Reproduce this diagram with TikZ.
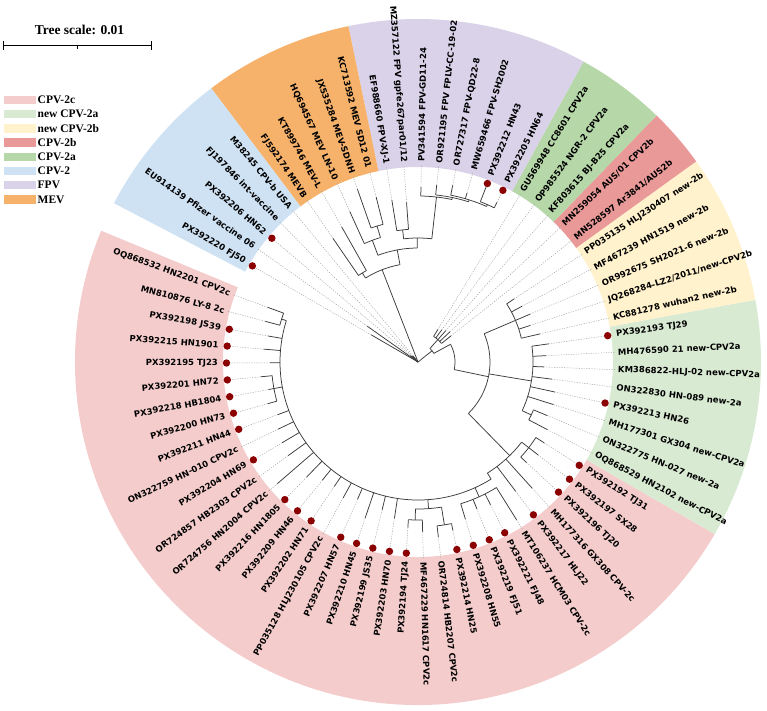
\documentclass[tikz,border=0pt]{standalone}
\usepackage{fontspec}
\setmainfont{Liberation Serif}
\newfontfamily\leaffont{DejaVu Sans}
\usetikzlibrary{arrows.meta}
\definecolor{twocbg}{HTML}{F4CCCC}
\definecolor{newtwoabg}{HTML}{D9EAD3}
\definecolor{newtwobbg}{HTML}{FFF2CC}
\definecolor{twobbg}{HTML}{EA9999}
\definecolor{twoabg}{HTML}{B6D7A8}
\definecolor{twobg}{HTML}{CFE2F3}
\definecolor{fpvbg}{HTML}{D9D2E9}
\definecolor{mevbg}{HTML}{F6B26B}
\definecolor{tipred}{HTML}{8B0000}
\definecolor{branchink}{HTML}{3A3A3A}
\definecolor{dashgray}{HTML}{A0A0A0}
\tikzset{
  branch/.style={draw=branchink,line width=0.75pt},
  leafdash/.style={draw=dashgray,line width=0.45pt,dash pattern=on 1.2pt off 1.3pt},
  leaflabel/.style={inner sep=0pt,font=\leaffont\bfseries\fontsize{8.5}{9}\selectfont},
  tipdot/.style={fill=tipred,draw=none},
  keybox/.style={minimum width=32pt,minimum height=8.5pt,inner sep=0pt,draw=none},
  keytext/.style={anchor=west,inner sep=0pt,font=\bfseries\fontsize{11.5}{12}\selectfont}
}
\begin{document}
\begin{tikzpicture}[x=1pt,y=1pt]
  \useasboundingbox (0,0) rectangle (767,710);
  \begin{scope}[shift={(418,348)}]
    % clade sectors
    \foreach \a/\b/\col in {157.49/329.88/twocbg,-30.12/10.45/newtwoabg,10.45/35.80/newtwobbg,
        35.80/45.94/twobbg,45.94/61.15/twoabg,61.15/101.71/fpvbg,101.71/127.07/mevbg,127.07/152.42/twobg} {
      \fill[\col] (\a:195) arc[start angle=\a,end angle=\b,radius=195]
        -- (\b:343) arc[start angle=\b,end angle=\a,radius=343] -- cycle;
    }
    % leaves: slot, branch start, tip, dot, label
    \foreach \k/\base/\tip/\dot/\txt in {
      0/138/148/1/{PX392195 TJ23}, 1/138/155/1/{PX392215 HN1901}, 2/138/152/1/{PX392198 JS39},
      3/143/158/0/{MN810876 LY-8 2c}, 4/143/160/0/{OQ868532 HN2201 CPV2c},
      6/0/54/1/{PX392220 FJ50}, 7/0/62/0/{EU914139 Pfizer vaccine 06}, 8/0/10/1/{PX392206 HN62},
      9/0/8/0/{FJ197846 int-vaccine}, 10/0/8/0/{M38245 CPV-b USA},
      11/105/150/0/{FJ592174 MEVB}, 12/105/155/0/{KT899746 MEV-L}, 13/130/165/0/{HQ694567 MEV LN-10},
      14/142/183/0/{JX535284 MEV-SDNH}, 15/142/170/0/{KC713592 MEV SD12 01},
      16/133/164/0/{EF988660 FPV-XJ-1}, 17/133/160/0/{MZ357122 FPV gpfe267par01/12},
      18/166/175/0/{PV341594 FPV-GD11-24}, 19/168/178/0/{OR921195 FPV FPLV-CC-19-02},
      20/170/180/0/{OR727317 FPV-QD22-8}, 21/170/176/0/{MW659466 FPV-SH2002},
      22/172/188/1/{PX392212 HN43}, 23/172/178/1/{PX392205 HN64},
      24/30/38/0/{GU569948 CC8601 CPV2a}, 25/30/40/0/{OP985524 NGR-2 CPV2a}, 26/30/42/0/{KF803615 BJ-B25 CPV2a},
      27/30/44/0/{MN259054 AUS/01 CPV2b}, 28/30/42/0/{MN528597 Ar3841/AUS2b},
      29/106/115/0/{PP035135 HLJ230407 new-2b}, 30/106/118/0/{MF467239 HN1519 new-2b},
      31/106/122/0/{OR992675 SH2021-6 new-2b}, 32/106/118/0/{JQ268284-LZ2/2011/new-CPV2b},
      33/106/125/0/{KC881278 wuhan2 new-2b},
      34/115/132/1/{PX392193 TJ29}, 35/115/128/0/{MH476590 21 new-CPV2a}, 36/115/126/0/{KM386822-HLJ-02 new-CPV2a},
      37/115/135/0/{ON322830 HN-089 new-2a}, 38/115/140/1/{PX392213 HN26}, 39/115/142/0/{MH177301 GX304 new-CPV2a},
      40/125/140/0/{ON322775 HN-027 new-2a}, 41/125/146/0/{OQ868529 HN2102 new-CPV2a},
      42/140/150/1/{PX392192 TJ31}, 43/140/152/1/{PX392197 SX28}, 44/140/148/1/{PX392196 TJ20},
      45/131/170/0/{MH177316 GX308 CPV-2c}, 46/131/162/1/{PX392217 HLJ22}, 47/148/186/0/{MT106237 HCM03 CPV-2c},
      48/148/160/1/{PX392221 FJ48}, 49/148/158/1/{PX392219 FJ51}, 50/148/164/1/{PX392208 HN55},
      51/165/172/1/{PX392214 HN25}, 52/165/176/0/{OR724814 HB2207 CPV2c}, 53/158/170/0/{MF467229 HN1617 CPV2c},
      54/158/166/1/{PX392194 TJ24}, 55/138/158/1/{PX392203 HN70}, 56/138/152/1/{PX392199 JS35},
      57/138/165/1/{PX392210 HN45}, 58/138/150/1/{PX392207 HN57}, 59/138/155/0/{PP035128 HLJ230105 CPV2c},
      60/138/150/1/{PX392202 HN71}, 61/138/152/1/{PX392209 HN46}, 62/138/160/1/{PX392216 HN1805},
      63/138/186/0/{OR724756 HN2004 CPV2c}, 64/138/160/0/{OR724857 HB2303 CPV2c}, 65/138/158/1/{PX392204 HN69},
      66/138/155/0/{ON322759 HN-010 CPV2c}, 67/138/150/1/{PX392211 HN44}, 68/146.5/156/1/{PX392200 HN73},
      69/146.5/152/1/{PX392218 HB1804}, 70/146.5/158/1/{PX392201 HN72}} {
      \pgfmathsetmacro{\ang}{180.3-5.0704*\k}
      \pgfmathsetmacro{\side}{cos(\ang)>=0 ? 1 : 0}
      \ifnum\dot=1
        \draw[leafdash] (\ang:\tip) -- (\ang:188);
        \fill[tipdot] (\ang:191.5) circle (3.7);
      \else
        \draw[leafdash] (\ang:\tip) -- (\ang:197);
      \fi
      \draw[branch] (\ang:\base) -- (\ang:\tip);
      \ifnum\side=1
        \node[leaflabel,anchor=west,rotate=\ang] (leaf\k) at (\ang:200) {\txt};
      \else
        \node[leaflabel,anchor=east,rotate=\ang+180] (leaf\k) at (\ang:200) {\txt};
      \fi
    }
    % inner nodes: angle, parent radius, node radius, arc from, arc to
    \foreach \m/\rp/\rn/\from/\to in {
      111.25/0/99/122.0/100.5,
      122.0/99/105/124.53/119.46,
      100.5/99/114/110.58/90.4,
      110.58/114/130/114.39/106.78,
      106.78/130/142/109.31/104.24,
      90.4/114/124/96.64/83.6,
      96.64/124/133/99.17/94.10,
      83.6/124/166/89.03/78.2,
      78.2/166/168/83.96/72.5,
      72.5/168/170/78.89/66.2,
      66.2/170/172/68.75/63.68,
      38.6/0/18/48.5/28.6,
      48.5/18/30/58.61/38.33,
      28.6/18/37/28.6/-11.8,
      -11.8/37/72/23.12/-45.6,
      23.12/72/106/33.26/12.98,
      -9.5/72/115/7.91/-25.05,
      -25.05/115/125/-22.51/-27.58,
      -45.6/72/131/-37.73/-58,
      -37.73/131/140/-32.66/-42.8,
      -58/131/138/-58/-197.45,
      -65.6/138/148/-58.01/-73.22,
      -85.9/138/147/-80.8/-91.0,
      -80.8/147/165/-78.29/-83.36,
      -91.0/147/158/-88.43/-93.5,
      -169.56/138/146.5/-164.49/-174.63,
      -197.45/138/143/-194.91/-199.98} {
      \draw[branch] (\m:\rp) -- (\m:\rn);
      \draw[branch] (\from:\rn) arc[start angle=\from,end angle=\to,radius=\rn];
    }
  \end{scope}
  % legend
  \foreach \i/\col/\txt in {0/twocbg/CPV-2c,1/newtwoabg/new CPV-2a,2/newtwobbg/new CPV-2b,
      3/twobbg/CPV-2b,4/twoabg/CPV-2a,5/twobg/CPV-2,6/fpvbg/FPV,7/mevbg/MEV} {
    \node[keybox,fill=\col,anchor=west] (key\i) at (3.5,610-14.2*\i) {};
    \node[keytext] (keytxt\i) at (37.5,610-14.2*\i) {\txt};
  }
  % scale bar
  \node[font=\bfseries\fontsize{13.5}{14}\selectfont] (scaletxt) at (79.5,680) {Tree scale: 0.01};
  \draw[line width=1.3pt] (3.3,664.3) -- (151.7,664.3);
  \draw[line width=1pt] (3.3,660) -- (3.3,668.5) (151.7,660) -- (151.7,668.5) (77.5,664.3) -- (77.5,661);
\end{tikzpicture}
\end{document}
